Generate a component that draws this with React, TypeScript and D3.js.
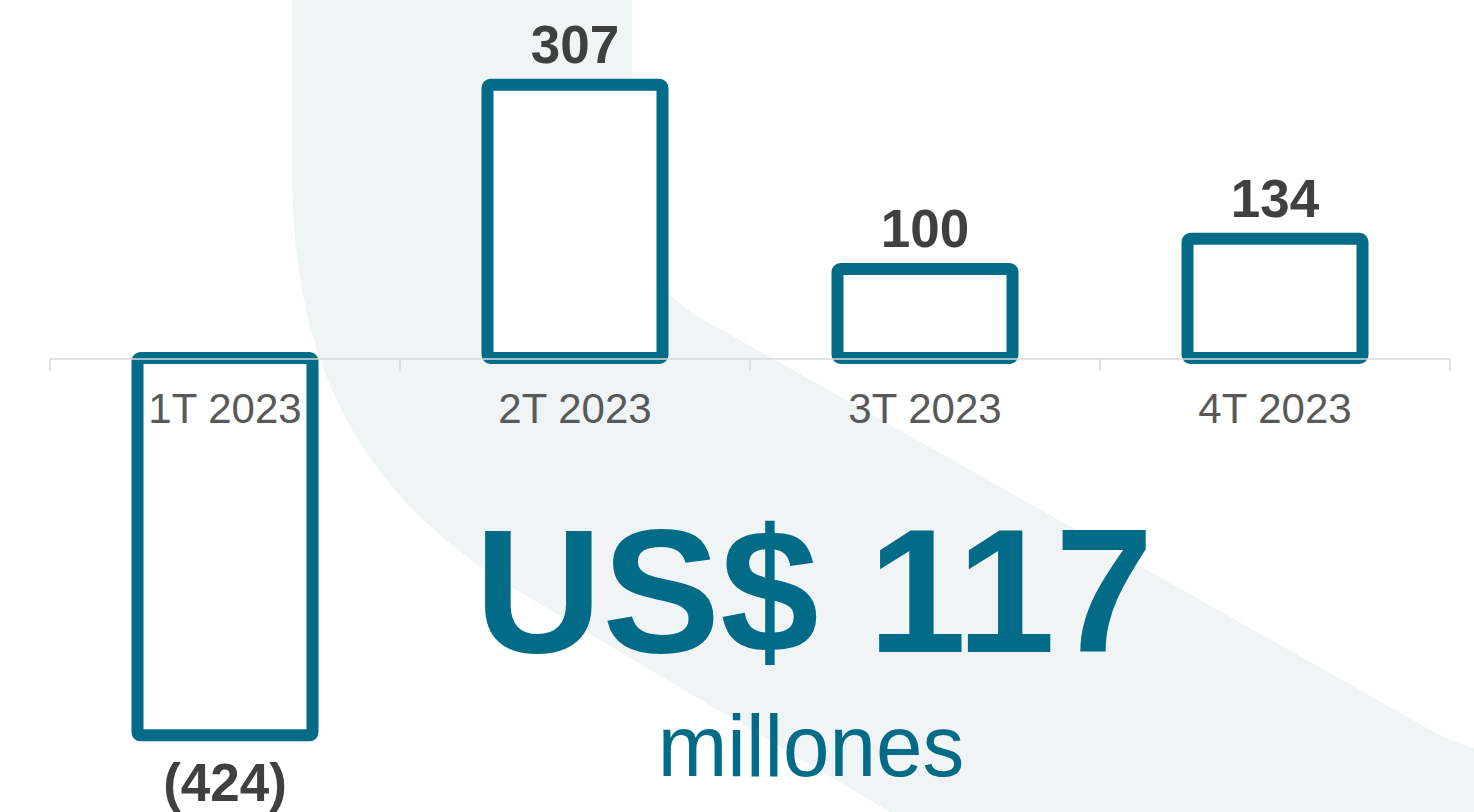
import { useEffect, useRef } from "react";
import * as d3 from "d3";

// quarterly net result, US$ millions
const categories = ["1T 2023", "2T 2023", "3T 2023", "4T 2023"];
const values = [-424, 307, 100, 134];
const totalLabel = "US$ 117";
const unitLabel = "millones";

const TEAL = "#016B88";
const DARK = "#404040";
const FONT = "'Liberation Sans', Arial, sans-serif";

export default function App() {
  const svgRef = useRef<SVGSVGElement>(null);
  const width = 1474;
  const height = 812;

  useEffect(() => {
    if (!svgRef.current) return;
    const svg = d3.select(svgRef.current);
    svg.selectAll("*").remove();

    // light background band
    svg
      .append("path")
      .attr(
        "d",
        "M292,0 L632,0 L632,200 C632,262 662,300 722,330 L1420,724 C1440,736 1458,744 1474,748 L1474,812 L890,812 L600,640 C560,616 530,598 500,580 C372,496 292,380 292,170 Z"
      )
      .attr("fill", "#F0F4F5");

    const x = d3
      .scaleBand<string>()
      .domain(categories)
      .range([50, 1450])
      .paddingInner(0.5)
      .paddingOuter(0.25);

    const y = d3.scaleLinear().domain([-500, 400]).range([803, 2]);
    const y0 = y(0);
    const sw = 12;

    const bars = svg
      .append("g")
      .selectAll("rect")
      .data(values)
      .join("rect")
      .attr("x", (_, i) => x(categories[i])!)
      .attr("width", x.bandwidth())
      .attr("y", (d) => Math.min(y(d), y0))
      .attr("height", (d) => Math.abs(y(d) - y0))
      .attr("rx", 3)
      .attr("fill", "#fff")
      .attr("stroke", TEAL)
      .attr("stroke-width", sw);
    void bars;

    // axis line + ticks at band edges
    const axis = svg.append("g").attr("stroke", "#D9D9D9").attr("stroke-width", 1.6);
    const [r0, r1] = x.range();
    axis.append("line").attr("x1", r0).attr("x2", r1).attr("y1", y0 + 1).attr("y2", y0 + 1);
    d3.range(categories.length + 1).forEach((i) => {
      const tx = r0 + i * x.step();
      axis.append("line").attr("x1", tx).attr("x2", tx).attr("y1", y0 + 1).attr("y2", y0 + 13);
    });

    // category labels
    svg
      .append("g")
      .selectAll("text")
      .data(categories)
      .join("text")
      .attr("x", (d) => x(d)! + x.bandwidth() / 2)
      .attr("y", 423)
      .attr("text-anchor", "middle")
      .attr("font-family", FONT)
      .attr("font-size", 42)
      .attr("fill", "#595959")
      .text((d) => d);

    // value labels
    svg
      .append("g")
      .selectAll("text")
      .data(values)
      .join("text")
      .attr("x", (_, i) => x(categories[i])! + x.bandwidth() / 2)
      .attr("y", (d) => (d >= 0 ? y(d) - sw / 2 - 16 : y(d) + sw / 2 + 60))
      .attr("text-anchor", "middle")
      .attr("font-family", FONT)
      .attr("font-weight", "bold")
      .attr("font-size", 53)
      .attr("fill", DARK)
      .text((d) => (d < 0 ? `(${Math.abs(d)})` : `${d}`));

    // headline total
    svg
      .append("text")
      .attr("x", 814)
      .attr("y", 652)
      .attr("text-anchor", "middle")
      .attr("font-family", FONT)
      .attr("font-weight", "bold")
      .attr("font-size", 177)
      .attr("fill", TEAL)
      .text(totalLabel);

    svg
      .append("text")
      .attr("transform", "translate(811,776) scale(0.95,1)")
      .attr("text-anchor", "middle")
      .attr("font-family", FONT)
      .attr("font-size", 88)
      .attr("fill", TEAL)
      .text(unitLabel);
  }, []);

  return (
    <svg
      ref={svgRef}
      width={width}
      height={height}
      style={{ position: "absolute", left: 0, top: 0, display: "block", background: "#fff" }}
    />
  );
}
